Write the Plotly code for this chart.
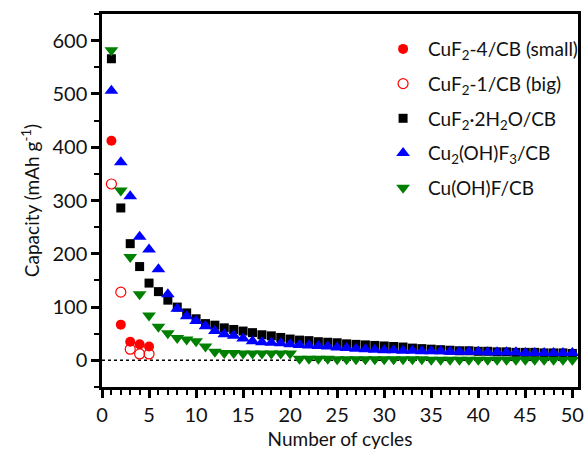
import plotly.graph_objects as go

cycles_small = [1, 2, 3, 4, 5]
cap_small = [412, 67, 35, 30, 26]
cycles_big = [1, 2, 3, 4, 5]
cap_big = [331, 128, 21, 12, 12]

cycles = list(range(1, 51))
cap_dihydrate = [566, 286, 219, 176, 145, 129, 113, 100, 89, 78,
                 69, 66, 61, 58, 55, 52, 48, 46, 43, 40,
                 38, 37, 35, 34, 33, 31, 30, 29, 28, 27,
                 26, 25, 23, 22, 21, 20, 19, 18, 18, 17,
                 17, 16, 16, 15, 15, 15, 14, 14, 14, 13]
cap_cu2ohf3 = [506, 372, 308, 232, 208, 171, 124, 97, 83, 74,
               64, 55, 49, 46, 41, 36, 34, 33, 32, 30,
               29, 28, 27, 26, 24, 23, 22, 21, 20, 19,
               19, 18, 18, 17, 17, 17, 16, 16, 16, 16,
               15, 15, 15, 15, 14, 14, 14, 14, 14, 14]
cap_cuohf = [582, 319, 194, 124, 84, 63, 51, 42, 39, 36,
             26, 16, 14, 14, 13, 13, 13, 13, 13, 13,
             3, 3, 3, 3, 2, 2, 2, 2, 2, 2,
             2, 2, 2, 2, 1, 1, 1, 1, 1, 1,
             1, 1, 1, 1, 1, 1, 1, 1, 1, 1]

names = ["CuF<sub>2</sub>-4/CB (small)",
         "CuF<sub>2</sub>-1/CB (big)",
         "CuF<sub>2</sub>·2H<sub>2</sub>O/CB",
         "Cu<sub>2</sub>(OH)F<sub>3</sub>/CB",
         "Cu(OH)F/CB"]

FONT = "Lato"
fig = go.Figure()
fig.add_trace(go.Scatter(x=cycles_small, y=cap_small, mode="markers", name=names[0], legendgroup="a",
                         marker=dict(symbol="circle", size=10, color="#ff0000")))
fig.add_trace(go.Scatter(x=cycles_big, y=cap_big, mode="markers", name=names[1], legendgroup="b",
                         marker=dict(symbol="circle-open", size=10, color="#ff0000", line=dict(width=1.2))))
fig.add_trace(go.Scatter(x=cycles, y=cap_dihydrate, mode="markers", name=names[2], legendgroup="c",
                         marker=dict(symbol="square", size=9, color="#000000")))
fig.add_trace(go.Scatter(x=cycles, y=cap_cu2ohf3, mode="markers", name=names[3], legendgroup="d",
                         marker=dict(symbol="triangle-up", size=12, color="#0000ff")))
fig.add_trace(go.Scatter(x=cycles, y=cap_cuohf, mode="markers", name=names[4], legendgroup="e",
                         marker=dict(symbol="triangle-down", size=12, color="#008000")))

fig.add_shape(type="line", xref="paper", yref="y", x0=0, x1=0.99, y0=0, y1=0,
              line=dict(color="black", width=1.5, dash="dot"), layer="below")

axis_common = dict(showline=True, linewidth=2.5, linecolor="black", mirror=True,
                   ticks="outside", tickwidth=2.5, tickcolor="black", ticklen=8,
                   showgrid=False, zeroline=False,
                   tickfont=dict(family=FONT, size=20, color="#111"))
fig.update_xaxes(range=[0, 50.6], dtick=5, tick0=0,
                 minor=dict(dtick=1, ticks="outside", ticklen=5, tickwidth=2, tickcolor="black"),
                 title=dict(text="Number of cycles", font=dict(family=FONT, size=19, color="#111"), standoff=8),
                 **axis_common)
fig.update_yaxes(range=[-50, 650], dtick=100, tick0=0,
                 minor=dict(dtick=50, ticks="outside", ticklen=5, tickwidth=2, tickcolor="black"),
                 title=dict(text="Capacity (mAh g<sup>-1</sup>)", font=dict(family=FONT, size=19, color="#111"), standoff=8),
                 **axis_common)

fig.update_layout(width=587, height=453, margin=dict(l=102, r=4, t=14, b=66),
                  plot_bgcolor="white", paper_bgcolor="white",
                  legend=dict(x=0.58, y=0.957, xanchor="left", yanchor="top",
                              traceorder="grouped", tracegroupgap=7, itemwidth=40,
                              font=dict(family=FONT, size=19, color="#111"),
                              bgcolor="rgba(0,0,0,0)"))
fig.write_html("out.html")
